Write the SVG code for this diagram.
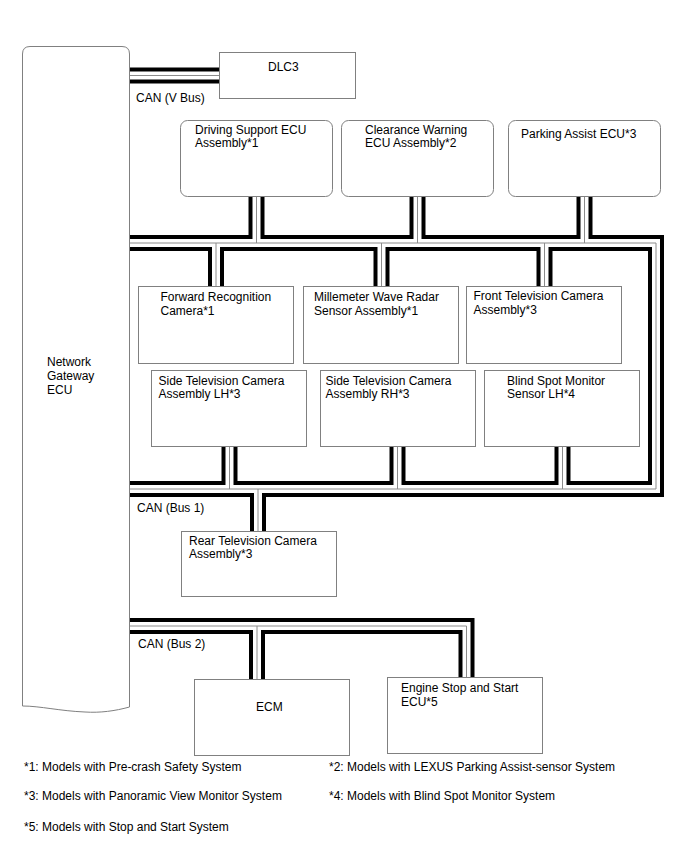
<svg xmlns="http://www.w3.org/2000/svg" xmlns:xlink="http://www.w3.org/1999/xlink" width="688" height="852" viewBox="0 0 688 852">
<style>
  .box { fill:#fff; stroke:#808080; stroke-width:1; }
  text { font-family:"Liberation Sans", Arial, sans-serif; font-size:12px; fill:#000; }
  .bk { stroke:#000; stroke-width:16; fill:none; stroke-linejoin:miter; }
  .wh { stroke:#fff; stroke-width:8; fill:none; stroke-linejoin:miter; }
  .gr { stroke:#8c8c8c; stroke-width:1; fill:none; stroke-linejoin:miter; }
</style>
<defs>
  <g id="buses">
    <path d="M130,75.5 H219"/>
    <path d="M130,243 H656 V489 H130"/>
    <path d="M256.5,197 V243"/>
    <path d="M417.5,197 V243"/>
    <path d="M584.5,197 V243"/>
    <path d="M216,243 V287"/>
    <path d="M381.5,243 V287"/>
    <path d="M544.5,243 V287"/>
    <path d="M229.5,447 V489"/>
    <path d="M397.5,447 V489"/>
    <path d="M562.5,447 V489"/>
    <path d="M258,489 V532"/>
    <path d="M130,626 H466.5 V678"/>
    <path d="M257,626 V680"/>
  </g>
</defs>
<rect width="688" height="852" fill="#fff"/>
<g id="gateway">
  <path class="box" d="M22.5,706 V54 Q22.5,46.5 30,46.5 H122 Q129.5,46.5 129.5,54 V707 C115,711 100,713 85,712 C60,711 40,706 22.5,706 Z"/>
  <text x="47" y="366">Network</text>
  <text x="47" y="380">Gateway</text>
  <text x="47" y="394">ECU</text>
</g>
<g id="connectors">
  <use xlink:href="#buses" class="bk"/>
  <use xlink:href="#buses" class="wh"/>
  <use xlink:href="#buses" class="gr"/>
</g>
<g id="labels">
  <text x="136" y="102">CAN (V Bus)</text>
  <text x="137" y="512">CAN (Bus 1)</text>
  <text x="138" y="648">CAN (Bus 2)</text>
</g>
<g id="dlc3">
  <rect class="box" x="219.5" y="52.5" width="136" height="46"/>
  <text x="268" y="71">DLC3</text>
</g>
<g id="driving-support">
  <rect class="box" x="180.5" y="120.5" width="152" height="76" rx="7"/>
  <text x="195" y="134">Driving Support ECU</text>
  <text x="195" y="147">Assembly*1</text>
</g>
<g id="clearance-warning">
  <rect class="box" x="341.5" y="120.5" width="152" height="76" rx="7"/>
  <text x="365" y="134">Clearance Warning</text>
  <text x="365" y="147">ECU Assembly*2</text>
</g>
<g id="parking-assist">
  <rect class="box" x="508.5" y="120.5" width="152" height="76" rx="7"/>
  <text x="521" y="138">Parking Assist ECU*3</text>
</g>
<g id="forward-recognition">
  <rect class="box" x="138.5" y="286.5" width="155" height="77"/>
  <text x="160.5" y="301">Forward Recognition</text>
  <text x="160.5" y="315">Camera*1</text>
</g>
<g id="millimeter-wave">
  <rect class="box" x="303.5" y="286.5" width="155" height="77"/>
  <text x="314" y="301">Millemeter Wave Radar</text>
  <text x="314" y="315">Sensor Assembly*1</text>
</g>
<g id="front-tv-camera">
  <rect class="box" x="466.5" y="286.5" width="155" height="77"/>
  <text x="473.5" y="300">Front Television Camera</text>
  <text x="473.5" y="314">Assembly*3</text>
</g>
<g id="side-tv-lh">
  <rect class="box" x="151.5" y="370.5" width="155" height="76"/>
  <text x="158.5" y="385">Side Television Camera</text>
  <text x="158.5" y="398">Assembly LH*3</text>
</g>
<g id="side-tv-rh">
  <rect class="box" x="320.5" y="370.5" width="155" height="76"/>
  <text x="325.5" y="385">Side Television Camera</text>
  <text x="325.5" y="398">Assembly RH*3</text>
</g>
<g id="blind-spot">
  <rect class="box" x="484.5" y="370.5" width="155" height="76"/>
  <text x="507" y="385">Blind Spot Monitor</text>
  <text x="507" y="398">Sensor LH*4</text>
</g>
<g id="rear-tv-camera">
  <rect class="box" x="181.5" y="531.5" width="155" height="65"/>
  <text x="189" y="545">Rear Television Camera</text>
  <text x="189" y="558">Assembly*3</text>
</g>
<g id="ecm">
  <rect class="box" x="194.5" y="679.5" width="155" height="76"/>
  <text x="256" y="711">ECM</text>
</g>
<g id="engine-stop-start">
  <rect class="box" x="387.5" y="677.5" width="155" height="76"/>
  <text x="401" y="692">Engine Stop and Start</text>
  <text x="401" y="706">ECU*5</text>
</g>
<g id="footnotes">
  <text x="24" y="771">*1: Models with Pre-crash Safety System</text>
  <text x="329" y="771">*2: Models with LEXUS Parking Assist-sensor System</text>
  <text x="24" y="800">*3: Models with Panoramic View Monitor System</text>
  <text x="329" y="800">*4: Models with Blind Spot Monitor System</text>
  <text x="24" y="831">*5: Models with Stop and Start System</text>
</g>
</svg>
